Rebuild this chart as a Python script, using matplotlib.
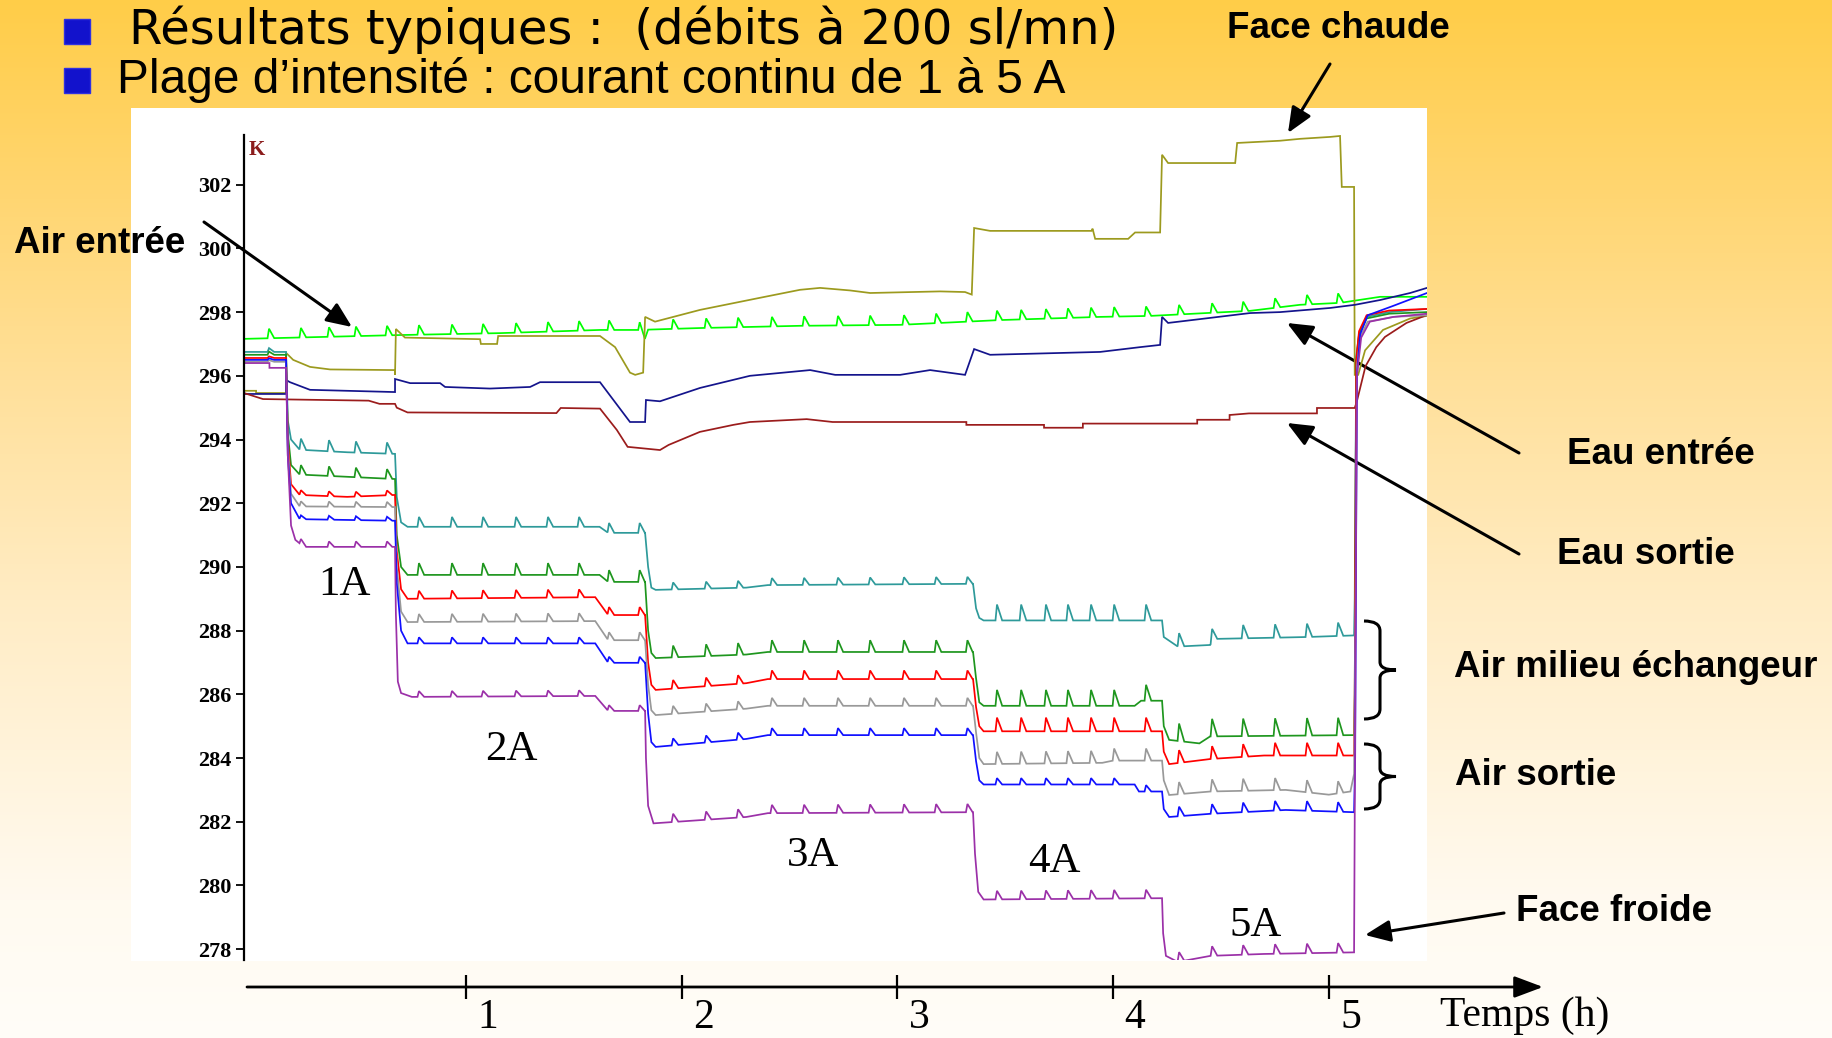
import numpy as np
import matplotlib
matplotlib.use('Agg')
import matplotlib.pyplot as plt
from matplotlib.patches import Rectangle, PathPatch
from matplotlib.path import Path
import matplotlib.transforms as mtransforms

W, H, DPI = 1833, 1038, 100

# ------------------------------------------------------------------ data
temp_ticks = list(range(278, 303, 2))
time_ticks = [1, 2, 3, 4, 5]
time_tick_labels = ['1', '2', '3', '4', '5']

stage_labels = ['1A', '2A', '3A', '4A', '5A']
stage_label_t = [0.44, 1.21, 2.61, 3.73, 4.66]
stage_label_T = [289.45, 284.25, 280.92, 280.73, 278.75]

# times (h) of the periodic spikes, per stage
spikes_pre = [0.088]
spikes_1A = [0.236, 0.366, 0.491, 0.635]
spikes_2A = [0.783, 0.936, 1.080, 1.233, 1.381, 1.525, 1.664, 1.806]
spikes_3A = [1.961, 2.114, 2.262, 2.419, 2.568, 2.725, 2.874, 3.031, 3.180, 3.325]
spikes_4A = [3.462, 3.574, 3.689, 3.791, 3.898, 4.005, 4.153]
spikes_5A = [4.306, 4.459, 4.603, 4.751, 4.899, 5.043]

# base curves (t [h], T [K])
air_entree = [(-0.028, 297.16), (0.695, 297.28), (1.159, 297.34), (1.622, 297.44), (1.80, 297.44),
              (1.83, 297.16), (1.845, 297.45), (2.086, 297.5), (2.549, 297.57), (3.013, 297.6),
              (3.476, 297.75), (3.94, 297.85), (4.171, 297.88), (4.635, 298.04), (4.867, 298.23),
              (5.052, 298.29), (5.238, 298.48), (5.455, 298.48)]
air_entree_h = [0.3, 0.3, 0.3, 0.3, 0.3, 0.3]

face_chaude = [(-0.028, 295.53), (0.028, 295.53), (0.028, 295.46), (0.167, 295.46), (0.167, 296.72),
               (0.20, 296.5), (0.278, 296.28), (0.371, 296.2), (0.672, 296.18), (0.672, 296.03),
               (0.676, 297.47), (0.718, 297.2), (1.066, 297.15), (1.07, 297.0), (1.145, 297.0),
               (1.15, 297.25), (1.622, 297.25), (1.692, 296.9), (1.761, 296.1), (1.785, 296.03),
               (1.822, 296.1), (1.831, 297.85), (1.877, 297.7), (2.086, 298.07), (2.364, 298.45),
               (2.549, 298.7), (2.642, 298.76), (2.781, 298.68), (2.874, 298.6), (3.198, 298.65),
               (3.314, 298.63), (3.345, 298.55), (3.356, 300.64), (3.43, 300.55), (3.90, 300.55),
               (3.905, 300.62), (3.917, 300.3), (4.07, 300.3), (4.102, 300.5), (4.218, 300.5),
               (4.227, 302.94), (4.255, 302.68), (4.566, 302.68), (4.575, 303.31), (4.774, 303.38),
               (4.867, 303.44), (5.006, 303.5), (5.052, 303.53), (5.06, 301.93), (5.117, 301.93),
               (5.12, 296.03), (5.136, 296.03), (5.168, 296.8), (5.251, 297.44), (5.377, 297.8),
               (5.455, 297.88)]

eau_entree = [(-0.028, 295.43), (0.167, 295.43), (0.167, 295.87), (0.185, 295.8), (0.278, 295.56),
              (0.672, 295.49), (0.672, 295.9), (0.742, 295.77), (0.881, 295.77), (0.904, 295.65),
              (1.112, 295.6), (1.298, 295.65), (1.344, 295.8), (1.622, 295.8), (1.761, 294.55),
              (1.831, 294.55), (1.835, 295.24), (1.90, 295.2), (2.086, 295.62), (2.317, 296.0),
              (2.596, 296.18), (2.712, 296.03), (3.013, 296.03), (3.152, 296.18), (3.314, 296.03),
              (3.356, 296.84), (3.43, 296.66), (3.94, 296.75), (4.125, 296.9), (4.218, 296.97),
              (4.227, 297.85), (4.255, 297.66), (4.403, 297.78), (4.635, 297.97), (4.774, 298.0),
              (5.006, 298.13), (5.122, 298.23), (5.238, 298.38), (5.377, 298.6), (5.455, 298.76)]

eau_sortie = [(-0.028, 295.46), (0.06, 295.27), (0.55, 295.22), (0.60, 295.12), (0.672, 295.12),
              (0.68, 295.0), (0.73, 294.85), (1.42, 294.83), (1.44, 294.99), (1.622, 294.97),
              (1.70, 294.3), (1.75, 293.77), (1.90, 293.67), (1.94, 293.83), (2.085, 294.24),
              (2.24, 294.46), (2.317, 294.55), (2.58, 294.64), (2.70, 294.55), (3.32, 294.55),
              (3.32, 294.46), (3.68, 294.46), (3.68, 294.37), (3.86, 294.37), (3.86, 294.5),
              (4.39, 294.5), (4.39, 294.62), (4.54, 294.62), (4.54, 294.77), (4.63, 294.82),
              (4.945, 294.82), (4.945, 294.99), (5.12, 294.99), (5.13, 295.2), (5.17, 296.3),
              (5.22, 296.9), (5.26, 297.22), (5.36, 297.66), (5.455, 297.91)]

air_milieu_1 = [(-0.028, 296.75), (0.167, 296.75), (0.175, 294.6), (0.19, 294.0), (0.23, 293.68),
                (0.45, 293.6), (0.672, 293.55), (0.68, 292.2), (0.70, 291.4), (0.73, 291.26),
                (1.62, 291.26), (1.66, 291.07), (1.831, 291.07), (1.845, 290.0), (1.86, 289.35),
                (1.88, 289.28), (2.3, 289.35), (2.4, 289.43), (3.351, 289.47), (3.365, 288.7),
                (3.38, 288.4), (3.40, 288.32), (4.227, 288.32), (4.235, 287.8), (4.30, 287.5),
                (4.45, 287.55), (4.47, 287.74), (4.9, 287.8), (5.117, 287.85), (5.12, 289.0),
                (5.127, 296.6), (5.14, 297.3), (5.175, 297.85), (5.28, 298.0), (5.455, 298.1)]
air_milieu_1_h = [0.12, 0.35, 0.31, 0.22, 0.5, 0.42]

air_milieu_2 = [(-0.028, 296.66), (0.167, 296.66), (0.175, 294.2), (0.19, 293.2), (0.23, 292.9),
                (0.45, 292.83), (0.672, 292.76), (0.68, 291.0), (0.70, 290.0), (0.73, 289.75),
                (1.62, 289.75), (1.66, 289.53), (1.831, 289.53), (1.845, 288.0), (1.86, 287.3),
                (1.88, 287.14), (2.3, 287.25), (2.4, 287.33), (3.351, 287.33), (3.365, 286.5),
                (3.38, 285.75), (3.40, 285.64), (4.10, 285.64), (4.13, 285.8), (4.227, 285.8),
                (4.235, 285.0), (4.26, 284.57), (4.40, 284.46), (4.45, 284.68), (5.117, 284.72),
                (5.12, 286.0), (5.127, 296.4), (5.14, 297.3), (5.175, 297.8), (5.28, 297.95),
                (5.455, 298.0)]
air_milieu_2_h = [0.1, 0.3, 0.37, 0.37, 0.5, 0.55]

air_milieu_3 = [(-0.028, 296.56), (0.167, 296.56), (0.175, 294.0), (0.19, 292.6), (0.23, 292.26),
                (0.45, 292.2), (0.672, 292.26), (0.68, 290.5), (0.70, 289.3), (0.73, 289.0),
                (1.60, 289.05), (1.66, 288.49), (1.831, 288.49), (1.845, 287.0), (1.86, 286.3),
                (1.88, 286.14), (2.3, 286.35), (2.4, 286.48), (3.351, 286.48), (3.365, 285.6),
                (3.38, 285.0), (3.40, 284.84), (4.227, 284.84), (4.235, 284.2), (4.26, 283.81),
                (4.45, 283.97), (4.7, 284.08), (5.117, 284.08), (5.12, 286.0), (5.127, 296.5),
                (5.14, 297.4), (5.175, 297.9), (5.28, 298.05), (5.455, 298.1)]
air_milieu_3_h = [0.05, 0.15, 0.25, 0.27, 0.43, 0.4]

air_sortie_1 = [(-0.028, 296.44), (0.167, 296.44), (0.175, 293.8), (0.19, 292.3), (0.23, 291.9),
                (0.672, 291.88), (0.68, 290.0), (0.70, 288.6), (0.73, 288.27), (1.60, 288.3),
                (1.66, 287.7), (1.831, 287.7), (1.845, 286.3), (1.86, 285.5), (1.88, 285.35),
                (2.3, 285.55), (2.4, 285.64), (3.351, 285.64), (3.365, 284.8), (3.38, 284.0),
                (3.40, 283.81), (3.95, 283.85), (4.0, 283.92), (4.227, 283.92), (4.235, 283.3),
                (4.26, 282.84), (4.45, 282.95), (4.8, 283.0), (5.0, 282.85), (5.10, 282.95),
                (5.117, 283.5), (5.125, 290.0), (5.13, 296.3), (5.145, 297.2), (5.18, 297.7),
                (5.3, 297.85), (5.455, 297.9)]
air_sortie_1_h = [0.05, 0.16, 0.25, 0.25, 0.38, 0.38]

air_sortie_2 = [(-0.028, 296.5), (0.167, 296.5), (0.175, 293.5), (0.19, 292.0), (0.23, 291.5),
                (0.672, 291.45), (0.68, 289.5), (0.70, 288.0), (0.73, 287.6), (1.60, 287.6),
                (1.66, 286.99), (1.831, 286.99), (1.845, 285.4), (1.86, 284.5), (1.88, 284.35),
                (2.3, 284.6), (2.4, 284.72), (3.351, 284.72), (3.365, 283.9), (3.38, 283.3),
                (3.40, 283.17), (4.10, 283.17), (4.12, 282.95), (4.227, 282.95), (4.235, 282.4),
                (4.26, 282.15), (4.45, 282.25), (4.8, 282.37), (5.117, 282.3), (5.122, 284.0),
                (5.13, 296.0), (5.145, 297.3), (5.18, 297.9), (5.3, 298.2), (5.455, 298.6)]
air_sortie_2_h = [0.05, 0.12, 0.19, 0.22, 0.2, 0.3]

face_froide = [(-0.028, 296.4), (0.09, 296.4), (0.09, 296.25), (0.167, 296.25), (0.175, 293.5),
               (0.19, 291.3), (0.21, 290.85), (0.25, 290.63), (0.672, 290.63), (0.676, 288.5),
               (0.685, 286.4), (0.70, 286.04), (0.75, 285.92), (1.60, 285.95), (1.66, 285.48),
               (1.831, 285.48), (1.835, 284.0), (1.845, 282.5), (1.87, 281.95), (2.3, 282.15),
               (2.4, 282.27), (3.351, 282.3), (3.36, 281.0), (3.375, 279.8), (3.40, 279.56),
               (4.227, 279.6), (4.232, 278.5), (4.245, 277.79), (4.30, 277.6), (4.45, 277.79),
               (4.7, 277.85), (5.117, 277.9), (5.122, 285.0), (5.13, 296.0), (5.15, 297.2),
               (5.19, 297.7), (5.3, 297.85), (5.455, 297.95)]
face_froide_h = [0.0, 0.17, 0.18, 0.26, 0.27, 0.3]

series = [
    (air_entree, air_entree_h, '#00FF00'),
    (face_chaude, None, '#9C9A1E'),
    (eau_entree, None, '#14148C'),
    (eau_sortie, None, '#9B1C1C'),
    (air_milieu_1, air_milieu_1_h, '#2E9A9A'),
    (air_milieu_2, air_milieu_2_h, '#1E961E'),
    (air_milieu_3, air_milieu_3_h, '#FF0000'),
    (air_sortie_1, air_sortie_1_h, '#999999'),
    (air_sortie_2, air_sortie_2_h, '#1010FF'),
    (face_froide, face_froide_h, '#9B30A8'),
]
spike_sets = [spikes_pre, spikes_1A, spikes_2A, spikes_3A, spikes_4A, spikes_5A]


def build(base, heights):
    bt = np.array([p[0] for p in base], float)
    bT = np.array([p[1] for p in base], float)
    if heights is None:
        return bt, bT
    spikes = [(ts, h) for times, h in zip(spike_sets, heights) for ts in times if h != 0]
    win = [(ts - 0.007, ts + 0.024) for ts, _ in spikes]
    pts = [p for p in base if not any(a < p[0] < b for a, b in win)]
    for ts, h in spikes:
        a, b = ts - 0.007, ts + 0.024
        pts += [(a, np.interp(a, bt, bT)), (ts, np.interp(ts, bt, bT) + h),
                (b, np.interp(b, bt, bT))]
    pts.sort(key=lambda p: p[0])
    return np.array([p[0] for p in pts]), np.array([p[1] for p in pts])


# ------------------------------------------------------------------ figure
fig = plt.figure(figsize=(W / DPI, H / DPI), dpi=DPI)

bg = fig.add_axes([0, 0, 1, 1])
bg.set_xlim(0, W)
bg.set_ylim(H, 0)
bg.axis('off')
gy = [0, 180, 380, 600, 900, H]
gc = np.array([(255, 205, 72), (255, 213, 110), (255, 224, 154), (255, 236, 196),
               (255, 250, 240), (255, 253, 248)]) / 255.0
yy = np.arange(H)
grad = np.stack([np.interp(yy, gy, gc[:, k]) for k in range(3)], axis=-1)[:, None, :]
bg.imshow(grad, extent=(0, W, H, 0), aspect='auto', zorder=0)
bg.add_patch(Rectangle((131, 108), 1427 - 131, 961 - 108, facecolor='white', edgecolor='none', zorder=1))

# bullets & titles
for y0 in (19, 68):
    bg.add_patch(Rectangle((64, y0), 26, 25, facecolor='#1212CC', edgecolor='#3030E0', lw=1, zorder=2))
bg.text(129, 44, 'Résultats typiques :  (débits à 200 sl/mn)', fontsize=34.6,
        family='DejaVu Sans', va='baseline', ha='left', zorder=3)
bg.text(117, 93, 'Plage d\u2019intensité : courant continu de 1 à 5 A', fontsize=34.5,
        family='Liberation Sans', va='baseline', ha='left', zorder=3)

lab = dict(fontsize=26.5, family='Liberation Sans', weight='bold', va='baseline', ha='left', zorder=3)
bg.text(1227, 38, 'Face chaude', **lab)
bg.text(14, 253, 'Air entrée', **lab)
bg.text(1567, 464, 'Eau entrée', **lab)
bg.text(1557, 564, 'Eau sortie', **lab)
bg.text(1454, 677, 'Air milieu échangeur', **lab)
bg.text(1455, 785, 'Air sortie', **lab)
bg.text(1516, 921, 'Face froide', **lab)

arrow_kw = dict(arrowstyle='-|>,head_length=0.7,head_width=0.3', color='black', lw=2.2,
                shrinkA=0, shrinkB=0, mutation_scale=22)
for tail, tip in [((204, 222), (352, 327)), ((1330, 64), (1288, 133)),
                  ((1519, 453), (1287, 323)), ((1519, 554), (1287, 423)),
                  ((1504, 913), (1365, 935))]:
    bg.annotate('', xy=tip, xytext=tail, arrowprops=arrow_kw, zorder=4)


def brace(x0, x1, ytop, ybot):
    ym = 0.5 * (ytop + ybot)
    xm = 0.5 * (x0 + x1)
    verts = [(x0, ytop), (xm, ytop), (xm, ytop + 10),
             (xm, ym - 8), (xm, ym), (x1, ym),
             (xm, ym), (xm, ym + 8),
             (xm, ybot - 10), (xm, ybot), (x0, ybot)]
    codes = [Path.MOVETO, Path.CURVE3, Path.CURVE3, Path.LINETO, Path.CURVE3, Path.CURVE3,
             Path.CURVE3, Path.CURVE3, Path.LINETO, Path.CURVE3, Path.CURVE3]
    bg.add_patch(PathPatch(Path(verts, codes), fill=False, lw=2.2, edgecolor='black', zorder=4))


brace(1364, 1396, 621, 719)
brace(1364, 1396, 744, 809)

bg.text(249, 155, 'K', color='#8B1C1C', fontsize=15, family='Liberation Serif',
        weight='bold', va='baseline', ha='left', zorder=3)
bg.text(1440, 1016, 'Temps (h)', fontsize=30, family='Liberation Serif', va='center', ha='left', zorder=3)

# ------------------------------------------------------------------ data axes
x_left, x_right, y_top, y_bot = 244, 1427, 135, 960
ax = fig.add_axes([x_left / W, 1 - y_bot / H, (x_right - x_left) / W, (y_bot - y_top) / H])
ax.patch.set_alpha(0)
ax.set_xlim(-0.028, 5.455)
ax.set_ylim(277.66, 303.56)
for s in ('top', 'right', 'bottom'):
    ax.spines[s].set_visible(False)
ax.spines['left'].set_linewidth(1.6)
ax.set_xticks([])
ax.set_yticks(temp_ticks)
ax.set_yticklabels([str(v) for v in temp_ticks], fontsize=16, family='Liberation Serif', weight='bold')
ax.tick_params(axis='y', length=6, width=1.3, pad=3)

for base, h, col in series:
    t, T = build(base, h)
    ax.plot(t, T, color=col, lw=1.25, solid_joinstyle='miter')

for s, tt, TT in zip(stage_labels, stage_label_t, stage_label_T):
    ax.text(tt, TT, s, fontsize=31, family='Liberation Serif', ha='center', va='center')

# ------------------------------------------------------------------ time axis
px_per_h = (x_right - x_left) / (5.455 + 0.028)
t_left = -0.028
t_right_ax = t_left + (1560 - x_left) / px_per_h
axt = fig.add_axes([x_left / W, 1 - 987 / H, (1560 - x_left) / W, 0.02])
axt.patch.set_alpha(0)
axt.set_xlim(t_left, t_right_ax)
axt.set_ylim(0, 1)
for s in axt.spines.values():
    s.set_visible(False)
axt.set_yticks([])
axt.set_xticks(time_ticks)
axt.set_xticklabels(time_tick_labels, fontsize=30, family='Liberation Serif')
axt.tick_params(axis='x', direction='inout', length=17, width=1.6, pad=0)
off = mtransforms.ScaledTranslation(22 / DPI, 0, fig.dpi_scale_trans)
for lbl in axt.get_xticklabels():
    lbl.set_transform(lbl.get_transform() + off)
tip_t = t_left + (1543 - x_left) / px_per_h
axt.annotate('', xy=(tip_t, 0), xytext=(t_left + 3 / px_per_h, 0),
             xycoords=('data', 'axes fraction'), textcoords=('data', 'axes fraction'),
             arrowprops=dict(arrowstyle='-|>,head_length=0.8,head_width=0.3', color='black',
                             lw=2.0, shrinkA=0, shrinkB=0, mutation_scale=22),
             annotation_clip=False)

fig.savefig('out.png', dpi=DPI)
